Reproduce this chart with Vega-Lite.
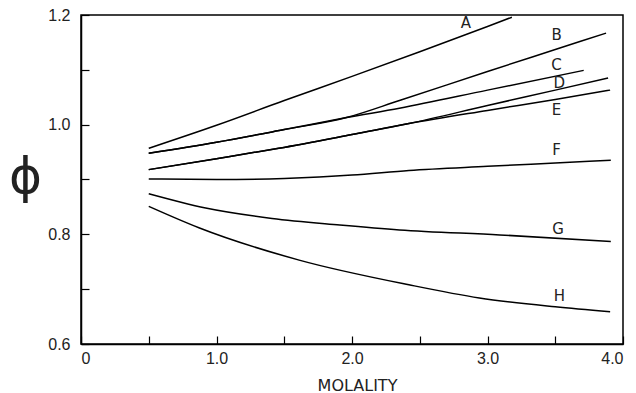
{
  "$schema": "https://vega.github.io/schema/vega-lite/v6.json",
  "width": 542,
  "height": 329,
  "autosize": {"type": "none"},
  "padding": {"left": 81, "top": 15, "right": 13, "bottom": 49},
  "background": "white",
  "config": {
    "view": {"stroke": "black", "strokeWidth": 1.5},
    "axis": {
      "grid": false,
      "domainColor": "black",
      "domainWidth": 1.5,
      "tickColor": "black",
      "tickWidth": 1.2,
      "tickSize": -8,
      "labelColor": "#222",
      "labelFont": "Liberation Sans",
      "labelFontSize": 16,
      "titleColor": "#222",
      "titleFontWeight": "normal"
    }
  },
  "datasets": {
    "curves": [
      {"curve": "A", "m": 0.5, "phi": 0.957},
      {"curve": "A", "m": 1.0, "phi": 0.999},
      {"curve": "A", "m": 1.5, "phi": 1.044},
      {"curve": "A", "m": 2.0, "phi": 1.088},
      {"curve": "A", "m": 2.5, "phi": 1.133},
      {"curve": "A", "m": 3.0, "phi": 1.179},
      {"curve": "A", "m": 3.18, "phi": 1.196},
      {"curve": "B", "m": 0.5, "phi": 0.948},
      {"curve": "B", "m": 1.0, "phi": 0.968},
      {"curve": "B", "m": 1.5, "phi": 0.991},
      {"curve": "B", "m": 1.96, "phi": 1.013},
      {"curve": "B", "m": 2.35, "phi": 1.044},
      {"curve": "B", "m": 3.0, "phi": 1.097},
      {"curve": "B", "m": 3.5, "phi": 1.137},
      {"curve": "B", "m": 3.875, "phi": 1.167},
      {"curve": "C", "m": 0.5, "phi": 0.948},
      {"curve": "C", "m": 1.0, "phi": 0.968},
      {"curve": "C", "m": 1.5, "phi": 0.991},
      {"curve": "C", "m": 1.96, "phi": 1.013},
      {"curve": "C", "m": 2.35, "phi": 1.030},
      {"curve": "C", "m": 3.0, "phi": 1.063},
      {"curve": "C", "m": 3.71, "phi": 1.099},
      {"curve": "D", "m": 0.5, "phi": 0.918},
      {"curve": "D", "m": 1.0, "phi": 0.938},
      {"curve": "D", "m": 1.46, "phi": 0.957},
      {"curve": "D", "m": 2.0, "phi": 0.982},
      {"curve": "D", "m": 2.42, "phi": 1.002},
      {"curve": "D", "m": 3.0, "phi": 1.035},
      {"curve": "D", "m": 3.5, "phi": 1.063},
      {"curve": "D", "m": 3.89, "phi": 1.085},
      {"curve": "E", "m": 0.5, "phi": 0.918},
      {"curve": "E", "m": 1.0, "phi": 0.938},
      {"curve": "E", "m": 1.46, "phi": 0.957},
      {"curve": "E", "m": 2.0, "phi": 0.982},
      {"curve": "E", "m": 2.42, "phi": 1.002},
      {"curve": "E", "m": 3.0, "phi": 1.026},
      {"curve": "E", "m": 3.5, "phi": 1.046},
      {"curve": "E", "m": 3.905, "phi": 1.063},
      {"curve": "F", "m": 0.5, "phi": 0.901},
      {"curve": "F", "m": 1.0, "phi": 0.900},
      {"curve": "F", "m": 1.5, "phi": 0.902},
      {"curve": "F", "m": 2.0, "phi": 0.908},
      {"curve": "F", "m": 2.42, "phi": 0.9165},
      {"curve": "F", "m": 3.0, "phi": 0.924},
      {"curve": "F", "m": 3.5, "phi": 0.930},
      {"curve": "F", "m": 3.91, "phi": 0.935},
      {"curve": "G", "m": 0.5, "phi": 0.874},
      {"curve": "G", "m": 0.92, "phi": 0.848},
      {"curve": "G", "m": 1.41, "phi": 0.829},
      {"curve": "G", "m": 1.91, "phi": 0.817},
      {"curve": "G", "m": 2.35, "phi": 0.808},
      {"curve": "G", "m": 3.09, "phi": 0.799},
      {"curve": "G", "m": 3.91, "phi": 0.787},
      {"curve": "H", "m": 0.5, "phi": 0.851},
      {"curve": "H", "m": 0.87, "phi": 0.812},
      {"curve": "H", "m": 1.61, "phi": 0.753},
      {"curve": "H", "m": 2.42, "phi": 0.708},
      {"curve": "H", "m": 2.94, "phi": 0.684},
      {"curve": "H", "m": 3.5, "phi": 0.668},
      {"curve": "H", "m": 3.905, "phi": 0.659}
    ],
    "labels": [
      {"curve": "A", "m": 2.84, "phi": 1.185},
      {"curve": "B", "m": 3.51, "phi": 1.163},
      {"curve": "C", "m": 3.51, "phi": 1.108},
      {"curve": "D", "m": 3.53, "phi": 1.076},
      {"curve": "E", "m": 3.51, "phi": 1.026},
      {"curve": "F", "m": 3.51, "phi": 0.953},
      {"curve": "G", "m": 3.52, "phi": 0.810},
      {"curve": "H", "m": 3.53, "phi": 0.688}
    ]
  },
  "layer": [
    {
      "data": {"name": "curves"},
      "mark": {"type": "line", "color": "black", "strokeWidth": 1.5, "interpolate": "monotone"},
      "encoding": {
        "x": {
          "field": "m", "type": "quantitative",
          "scale": {"domain": [0, 4], "nice": false, "zero": false},
          "axis": {
            "values": [0, 0.5, 1, 1.5, 2, 2.5, 3, 3.5, 4],
            "labelExpr": "datum.value == 0 ? '0' : (round(datum.value * 10) % 10 == 0 ? format(datum.value, '.1f') : '')",
            "labelPadding": 14,
            "title": "MOLALITY",
            "titleFont": "DejaVu Sans",
            "titleFontSize": 16,
            "titleX": 276,
            "titleY": 41,
            "titleAlign": "center",
            "titleBaseline": "middle"
          }
        },
        "y": {
          "field": "phi", "type": "quantitative",
          "scale": {"domain": [0.6, 1.2], "nice": false, "zero": false},
          "axis": {
            "values": [0.6, 0.65, 0.7, 0.75, 0.8, 0.85, 0.9, 0.95, 1.0, 1.05, 1.1, 1.15, 1.2],
            "labelExpr": "round(datum.value * 100) % 20 == 0 ? format(datum.value, '.1f') : ''",
            "labelPadding": 19,
            "title": "ϕ",
            "titleFont": "DejaVu Sans",
            "titleFontSize": 50,
            "titleAngle": 0,
            "titleX": -56,
            "titleY": 162,
            "titleAlign": "center",
            "titleBaseline": "middle"
          }
        },
        "detail": {"field": "curve"}
      }
    },
    {
      "data": {"name": "labels"},
      "mark": {"type": "text", "font": "DejaVu Sans", "fontSize": 15, "color": "#222", "align": "center", "baseline": "middle"},
      "encoding": {
        "x": {"field": "m", "type": "quantitative"},
        "y": {"field": "phi", "type": "quantitative"},
        "text": {"field": "curve"}
      }
    }
  ]
}
